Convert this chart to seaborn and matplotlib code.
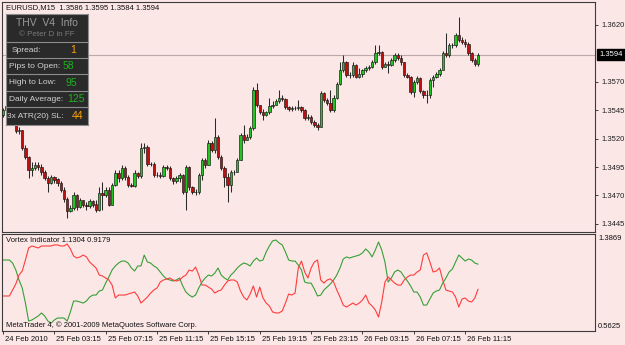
import numpy as np
import pandas as pd
import matplotlib
matplotlib.use('Agg')
import matplotlib.pyplot as plt
import seaborn as sns

# --- EURUSD M15 bars (open = previous close) ---
first_open = 1.3541
close = [
    1.3545, 1.3549, 1.3543, 1.3536, 1.3527, 1.3528, 1.3512, 1.3504, 1.3492, 1.3494,
    1.3497, 1.3495, 1.3491, 1.3485, 1.3481, 1.3486, 1.3484, 1.3481, 1.3475, 1.3467,
    1.3456, 1.3459, 1.3470, 1.3460, 1.3466, 1.3462, 1.3461, 1.3465, 1.3462, 1.3457,
    1.3472, 1.3470, 1.3475, 1.3462, 1.3479, 1.3490, 1.3485, 1.3494, 1.3486, 1.3479,
    1.3478, 1.3490, 1.3487, 1.3512, 1.3513, 1.3498, 1.3498, 1.3488, 1.3488, 1.3487,
    1.3495, 1.3494, 1.3485, 1.3483, 1.3485, 1.3488, 1.3473, 1.3495, 1.3477, 1.3473,
    1.3473, 1.3488, 1.3501, 1.3497, 1.3516, 1.3510, 1.3521, 1.3504, 1.3494, 1.3486,
    1.3479, 1.3491, 1.3491, 1.3501, 1.3523, 1.3519, 1.3521, 1.3529, 1.3563, 1.3550,
    1.3543, 1.3541, 1.3543, 1.3549, 1.3550, 1.3553, 1.3556, 1.3555, 1.3548, 1.3546,
    1.3547, 1.3547, 1.3548, 1.3545, 1.3538, 1.3539, 1.3535, 1.3532, 1.3530, 1.3560,
    1.3554, 1.3551, 1.3545, 1.3556, 1.3568, 1.3580, 1.3587, 1.3576, 1.3576, 1.3585,
    1.3574, 1.3577, 1.3580, 1.3582, 1.3583, 1.3587, 1.3595, 1.3596, 1.3583, 1.3586,
    1.3585, 1.3589, 1.3594, 1.3591, 1.3587, 1.3576, 1.3574, 1.3561, 1.3570, 1.3573,
    1.3562, 1.3558, 1.3558, 1.3572, 1.3574, 1.3577, 1.3580, 1.3595, 1.3594, 1.3602,
    1.3602, 1.3611, 1.3607, 1.3605, 1.3603, 1.3595, 1.3589, 1.3586, 1.3594,
]
high = [
    1.3547, 1.3550, 1.3550, 1.3545, 1.3537, 1.3530, 1.3528, 1.3514, 1.3505, 1.3499,
    1.3499, 1.3499, 1.3498, 1.3492, 1.3487, 1.3488, 1.3487, 1.3485, 1.3483, 1.3477,
    1.3469, 1.3462, 1.3473, 1.3471, 1.3468, 1.3466, 1.3464, 1.3467, 1.3466, 1.3466,
    1.3477, 1.3482, 1.3477, 1.3477, 1.3481, 1.3492, 1.3492, 1.3497, 1.3496, 1.3488,
    1.3481, 1.3492, 1.3491, 1.3516, 1.3516, 1.3514, 1.3499, 1.3499, 1.3491, 1.3491,
    1.3497, 1.3497, 1.3496, 1.3486, 1.3487, 1.3490, 1.3489, 1.3497, 1.3496, 1.3478,
    1.3476, 1.3490, 1.3503, 1.3503, 1.3519, 1.3518, 1.3538, 1.3523, 1.3506, 1.3496,
    1.3490, 1.3492, 1.3492, 1.3503, 1.3525, 1.3532, 1.3524, 1.3531, 1.3565, 1.3569,
    1.3550, 1.3546, 1.3544, 1.3556, 1.3553, 1.3555, 1.3563, 1.3558, 1.3556, 1.3549,
    1.3549, 1.3549, 1.3554, 1.3549, 1.3546, 1.3542, 1.3541, 1.3536, 1.3534, 1.3562,
    1.3561, 1.3556, 1.3563, 1.3558, 1.3570, 1.3587, 1.3594, 1.3588, 1.3579, 1.3587,
    1.3586, 1.3582, 1.3581, 1.3584, 1.3585, 1.3589, 1.3602, 1.3602, 1.3597, 1.3587,
    1.3588, 1.3591, 1.3595, 1.3595, 1.3594, 1.3587, 1.3578, 1.3575, 1.3572, 1.3575,
    1.3574, 1.3563, 1.3563, 1.3573, 1.3576, 1.3579, 1.3582, 1.3597, 1.3613, 1.3604,
    1.3604, 1.3613, 1.3627, 1.3609, 1.3608, 1.3605, 1.3596, 1.3591, 1.3595,
]
low = [
    1.3539, 1.3543, 1.3542, 1.3535, 1.3525, 1.3524, 1.3510, 1.3502, 1.3485, 1.3487,
    1.3492, 1.3492, 1.3488, 1.3484, 1.3473, 1.3480, 1.3481, 1.3478, 1.3473, 1.3464,
    1.3450, 1.3455, 1.3457, 1.3457, 1.3459, 1.3460, 1.3457, 1.3459, 1.3460, 1.3455,
    1.3456, 1.3457, 1.3469, 1.3461, 1.3462, 1.3478, 1.3482, 1.3484, 1.3484, 1.3477,
    1.3477, 1.3477, 1.3485, 1.3485, 1.3507, 1.3496, 1.3496, 1.3486, 1.3486, 1.3485,
    1.3486, 1.3492, 1.3484, 1.3480, 1.3481, 1.3482, 1.3471, 1.3457, 1.3475, 1.3471,
    1.3470, 1.3471, 1.3484, 1.3494, 1.3497, 1.3508, 1.3507, 1.3502, 1.3492, 1.3477,
    1.3464, 1.3473, 1.3488, 1.3491, 1.3501, 1.3516, 1.3519, 1.3520, 1.3528, 1.3548,
    1.3542, 1.3536, 1.3540, 1.3542, 1.3547, 1.3550, 1.3551, 1.3553, 1.3546, 1.3544,
    1.3544, 1.3545, 1.3545, 1.3543, 1.3536, 1.3536, 1.3533, 1.3530, 1.3528, 1.3530,
    1.3552, 1.3550, 1.3543, 1.3543, 1.3555, 1.3567, 1.3579, 1.3574, 1.3573, 1.3574,
    1.3573, 1.3573, 1.3574, 1.3579, 1.3580, 1.3582, 1.3586, 1.3594, 1.3581, 1.3583,
    1.3578, 1.3584, 1.3587, 1.3589, 1.3585, 1.3574, 1.3573, 1.3559, 1.3557, 1.3568,
    1.3560, 1.3556, 1.3551, 1.3556, 1.3565, 1.3573, 1.3575, 1.3580, 1.3592, 1.3592,
    1.3600, 1.3601, 1.3605, 1.3603, 1.3601, 1.3594, 1.3587, 1.3584, 1.3584,
]

# --- Vortex indicator (VI+ green, VI- red) ---
vi_plus = [
    1.166, 1.166, 1.166, 1.140, 1.081, 0.996, 0.928, 0.800, 0.647, 0.656,
    0.673, 0.690, 0.716, 0.690, 0.647, 0.630, 0.656, 0.673, 0.673, 0.673,
    0.647, 0.724, 0.817, 0.817, 0.809, 0.800, 0.817, 0.851, 0.868, 0.868,
    0.902, 0.911, 0.970, 1.022, 1.081, 1.115, 1.140, 1.157, 1.157, 1.140,
    1.098, 1.072, 1.115, 1.115, 1.208, 1.149, 1.140, 1.115, 1.098, 1.064,
    1.030, 1.005, 0.996, 0.987, 0.996, 1.013, 0.945, 0.894, 0.868, 0.851,
    0.868, 0.928, 0.979, 1.013, 1.038, 1.030, 1.055, 1.098, 1.038, 1.013,
    0.996, 1.038, 1.064, 1.098, 1.123, 1.140, 1.132, 1.115, 1.157, 1.183,
    1.157, 1.166, 1.234, 1.285, 1.328, 1.336, 1.311, 1.294, 1.234, 1.166,
    1.157, 1.157, 1.123, 1.081, 0.979, 0.970, 0.970, 0.919, 0.860, 0.868,
    0.911, 0.936, 0.962, 0.996, 1.038, 1.098, 1.174, 1.192, 1.183, 1.192,
    1.200, 1.208, 1.226, 1.260, 1.234, 1.192, 1.251, 1.319, 1.251, 1.149,
    0.979, 1.013, 1.064, 1.081, 1.064, 1.022, 0.987, 0.945, 0.894, 0.894,
    0.851, 0.783, 0.783, 0.834, 0.885, 0.902, 0.911, 0.970, 1.013, 1.064,
    1.089, 1.149, 1.208, 1.183, 1.157, 1.174, 1.166, 1.140, 1.1304,
]
vi_minus = [
    0.860, 0.860, 0.860, 0.911, 0.962, 1.038, 1.072, 1.166, 1.268, 1.285,
    1.277, 1.268, 1.285, 1.285, 1.285, 1.285, 1.294, 1.294, 1.285, 1.285,
    1.302, 1.260, 1.200, 1.183, 1.192, 1.208, 1.192, 1.149, 1.123, 1.098,
    1.038, 1.030, 1.013, 0.996, 0.953, 0.843, 0.868, 0.868, 0.868, 0.877,
    0.885, 0.894, 0.860, 0.800, 0.826, 0.851, 0.885, 0.911, 0.928, 0.979,
    0.996, 1.005, 1.013, 0.996, 0.987, 0.996, 1.022, 1.038, 1.081, 1.072,
    1.106, 1.038, 0.953, 0.953, 0.936, 0.919, 0.885, 0.902, 0.911, 0.953,
    0.987, 0.996, 0.996, 0.979, 0.902, 0.851, 0.826, 0.877, 0.945, 0.851,
    0.936, 0.843, 0.800, 0.775, 0.724, 0.716, 0.716, 0.733, 0.800, 0.877,
    0.868, 0.885, 1.098, 1.157, 1.064, 1.013, 1.098, 1.149, 1.166, 0.996,
    0.970, 0.996, 1.005, 0.979, 0.911, 0.851, 0.783, 0.766, 0.783, 0.800,
    0.783, 0.800, 0.826, 0.868, 0.800, 0.775, 0.741, 0.681, 0.809, 0.979,
    1.022, 0.996, 0.970, 0.953, 0.953, 0.996, 1.022, 1.038, 1.038, 1.064,
    1.081, 1.208, 1.226, 1.149, 1.064, 1.072, 1.098, 0.996, 0.911, 0.902,
    0.894, 0.851, 0.766, 0.834, 0.843, 0.817, 0.809, 0.843, 0.9179,
]

price_ticks = [1.3445, 1.3470, 1.3495, 1.3520, 1.3545, 1.3570, 1.3620]
last_price = 1.3594
vortex_range = (0.5625, 1.3869)
time_bars = [0, 16, 32, 48, 64, 80, 96, 112, 128, 144]
time_labels = ['24 Feb 2010', '25 Feb 03:15', '25 Feb 07:15', '25 Feb 11:15',
               '25 Feb 15:15', '25 Feb 19:15', '25 Feb 23:15', '26 Feb 03:15',
               '26 Feb 07:15', '26 Feb 11:15']
header = 'EURUSD,M15  1.3586 1.3595 1.3584 1.3594'
info_labels = ['Spread:', 'Pips to Open:', 'High to Low:', 'Daily Average:', '3x ATR(20) SL:']
info_values = ['1', '58', '95', '125', '44']

# --- style ---
BG = '#FCE7E7'
sns.set_theme(style='white', rc={'axes.facecolor': BG, 'figure.facecolor': BG})
plt.rcParams['font.family'] = ['Liberation Sans', 'DejaVu Sans']
FS = 5.5

W, H = 625, 345


def box(x0, y0, x1, y1):
    # pixel box (top-left origin) -> figure fraction rect
    return [x0 / W, 1 - y1 / H, (x1 - x0) / W, (y1 - y0) / H]


fig = plt.figure(figsize=(6.25, 3.45), dpi=100, facecolor=BG)
ax = fig.add_axes(box(2, 2, 595, 232))
ax2 = fig.add_axes(box(2, 234, 595, 331))

xlim = (-0.3, -0.3 + 593 / 3.21)

# --- candles ---
df = pd.DataFrame({'close': close, 'high': high, 'low': low})
df['open'] = df['close'].shift(1).fillna(first_open)
df['bar'] = np.arange(len(df))
df['bottom'] = df[['open', 'close']].min(axis=1)
df['height'] = (df['close'] - df['open']).abs()
up = df['close'] > df['open']

ax.vlines(df['bar'], df['low'], df['high'], color='#2a2a2a', lw=0.75, zorder=2)
ax.bar(df.loc[up, 'bar'], df.loc[up, 'height'], bottom=df.loc[up, 'bottom'],
       width=0.75, color='#22C322', edgecolor='#151515', lw=0.45, zorder=3)
ax.bar(df.loc[~up, 'bar'], df.loc[~up, 'height'], bottom=df.loc[~up, 'bottom'],
       width=0.75, color='#BE1010', edgecolor='#151515', lw=0.45, zorder=3)

ax.axhline(last_price, color='#bcaaaa', lw=0.8, zorder=1)
ax.set_xlim(*xlim)
ax.set_ylim(1.34378, 1.36402)
ax.set_xticks([])
ax.yaxis.tick_right()
ax.set_yticks(price_ticks)
ax.set_yticklabels([f'{p:.4f}' for p in price_ticks])
ax.tick_params(axis='y', right=True, length=2.5, width=0.6, pad=1.8,
               labelsize=FS, colors='#202020')
ax.text(0.006, 0.975, header, transform=ax.transAxes, fontsize=FS,
        ha='left', va='center', color='#101010')
ax.annotate(f'{last_price:.4f}', xy=(1, last_price), xycoords=('axes fraction', 'data'),
            xytext=(4, 0), textcoords='offset pixels', ha='left', va='center',
            color='white', fontsize=FS,
            bbox=dict(boxstyle='square,pad=0.3', fc='black', ec='black'))

# --- vortex pane ---
vdf = pd.DataFrame({'bar': np.arange(len(vi_plus)), 'VI+': vi_plus, 'VI-': vi_minus})
sns.lineplot(data=vdf, x='bar', y='VI+', ax=ax2, color='#35A035', lw=0.8)
sns.lineplot(data=vdf, x='bar', y='VI-', ax=ax2, color='#FF3C3C', lw=0.8)
ax2.set_xlim(*xlim)
ax2.set_ylim(*vortex_range)
ax2.set_xlabel('')
ax2.set_ylabel('')
ax2.set_yticks([])
ax2.set_xticks(time_bars)
ax2.set_xticklabels([])
ax2.tick_params(axis='x', bottom=True, length=2.5, width=0.6, colors='#202020')
for b, lab in zip(time_bars, time_labels):
    ax2.annotate(lab, xy=(b, 0), xycoords=('data', 'axes fraction'), xytext=(2, -5),
                 textcoords='offset pixels', ha='left', va='top', fontsize=FS,
                 color='#101010')
ax2.annotate(f'{vortex_range[1]:.4f}', xy=(1, 1), xycoords='axes fraction',
             xytext=(3, -1), textcoords='offset pixels', ha='left', va='top',
             fontsize=FS, color='#101010')
ax2.annotate(f'{vortex_range[0]:.4f}', xy=(1, 0), xycoords='axes fraction',
             xytext=(3, 1), textcoords='offset pixels', ha='left', va='bottom',
             fontsize=FS, color='#101010')
ax2.text(0.006, 0.93, f'Vortex Indicator {vi_plus[-1]:.4f} {vi_minus[-1]:.4f}',
         transform=ax2.transAxes, fontsize=FS, ha='left', va='center', color='#101010')
ax2.text(0.006, 0.065, 'MetaTrader 4, \u00a9 2001-2009 MetaQuotes Software Corp.',
         transform=ax2.transAxes, fontsize=FS, ha='left', va='center', color='#101010')

for a in (ax, ax2):
    a.set_facecolor(BG)
    for s in a.spines.values():
        s.set_visible(True)
        s.set_color('#3c3c3c')
        s.set_linewidth(0.8)

# --- info panel drawn over the candles ---
pax = fig.add_axes(box(6, 14, 88, 125), zorder=5)
pax.set_facecolor('#2a2a2a')
pax.set_xlim(0, 82)
pax.set_ylim(111, 0)
pax.set_xticks([])
pax.set_yticks([])
for s in pax.spines.values():
    s.set_color('#8c8c8c')
    s.set_linewidth(0.8)
for yl in [27.5, 43.5, 60, 76.5, 93]:
    pax.axhline(yl, color='#8c8c8c', lw=0.8)
pax.text(41, 9, 'THV  V4  Info', ha='center', va='center', fontsize=7.5, color='#9a9a9a')
pax.text(41, 20, '\u00a9 Peter D in FF', ha='center', va='center', fontsize=5.8, color='#7a7a7a')

label_x = [5.7, 3, 3, 3, 1.3]
value_x = [64, 57, 60, 61.5, 65.5]
row_y = [36, 52, 68.5, 85, 102]
value_colors = ['#FFA500', '#1DB31D', '#1DB31D', '#1DB31D', '#FFA500']
for lx, vx, ry, lab, val, col in zip(label_x, value_x, row_y, info_labels,
                                     info_values, value_colors):
    pax.text(lx, ry, lab, ha='left', va='center', fontsize=6, color='#d2d2d2')
    pax.text(vx, ry, val, ha='left', va='center', fontsize=7.5, color=col)

fig.savefig('out.png', dpi=100, facecolor=BG)
